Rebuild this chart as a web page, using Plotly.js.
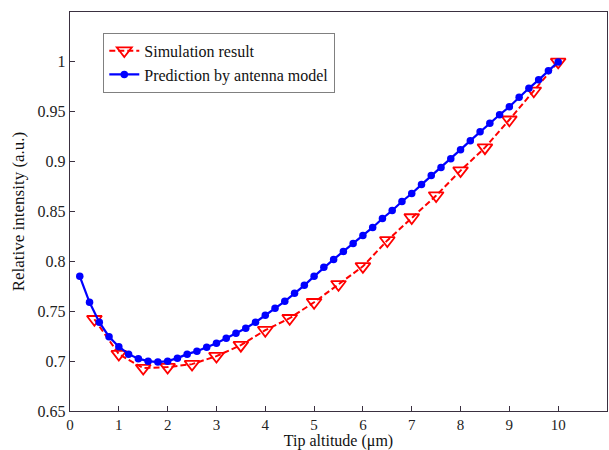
<!DOCTYPE html>
<html>
<head>
<meta charset="utf-8">
<script src="https://cdn.plot.ly/plotly-3.0.1.min.js"></script>
<style>html,body{margin:0;padding:0;background:#fff;}#chart{width:609px;height:450px;}</style>
</head>
<body>
<div id="chart"></div>
<script>
const simX = [0.5,1,1.5,2,2.5,3,3.5,4,4.5,5,5.5,6,6.5,7,7.5,8,8.5,9,9.5,10];
const simY = [0.742,0.707,0.693,0.694,0.697,0.705,0.716,0.731,0.743,0.759,0.777,0.795,0.821,0.844,0.866,0.891,0.914,0.942,0.971,1.0];

const predX = [0.2,0.4,0.6,0.8,1.0,1.2,1.4,1.6,1.8,2.0,2.2,2.4,2.6,2.8,3.0,3.2,3.4,3.6,3.8,4.0,4.2,4.4,4.6,4.8,5.0,5.2,5.4,5.6,5.8,6.0,6.2,6.4,6.6,6.8,7.0,7.2,7.4,7.6,7.8,8.0,8.2,8.4,8.6,8.8,9.0,9.2,9.4,9.6,9.8,10.0];
const predY = [0.785,0.759,0.739,0.7245,0.7145,0.707,0.7025,0.700,0.699,0.700,0.703,0.707,0.710,0.714,0.718,0.723,0.728,0.733,0.739,0.746,0.753,0.760,0.768,0.776,0.785,0.794,0.802,0.810,0.818,0.826,0.834,0.843,0.851,0.860,0.868,0.877,0.886,0.894,0.903,0.912,0.921,0.930,0.9385,0.947,0.955,0.9645,0.9735,0.982,0.991,1.0];

const xTicks = [0,1,2,3,4,5,6,7,8,9,10];
const yTicks = [0.65,0.7,0.75,0.8,0.85,0.9,0.95,1];
const yTickText = ['0.65','0.7','0.75','0.8','0.85','0.9','0.95','1'];

const font = 'Liberation Serif';
const axisColor = '#3a3040';

const traces = [
  {
    x: simX, y: simY, name: 'Simulation result', mode: 'lines+markers', type: 'scatter',
    line: {color: '#ff0000', width: 2, dash: '6px,3px'},
    marker: {symbol: 'triangle-down-open', size: 13, color: '#ff0000', line: {width: 1.8, color: '#ff0000'}}
  },
  {
    x: predX, y: predY, name: 'Prediction by antenna model', mode: 'lines+markers', type: 'scatter',
    line: {color: '#0000ff', width: 2.2},
    marker: {symbol: 'circle', size: 7.5, color: '#0000ff'}
  }
];

const layout = {
  width: 609, height: 450,
  margin: {l: 70, r: 2, t: 12, b: 39},
  paper_bgcolor: '#ffffff', plot_bgcolor: '#ffffff',
  font: {family: font, size: 15, color: '#111'},
  showlegend: true,
  legend: {
    x: 0.062, y: 0.948, xanchor: 'left', yanchor: 'top',
    bgcolor: '#ffffff', bordercolor: '#808080', borderwidth: 1,
    font: {family: font, size: 16, color: '#111'},
    tracegroupgap: 0, itemwidth: 30
  },
  xaxis: {
    range: [0, 11], tickvals: xTicks, ticktext: xTicks.map(String),
    ticks: 'inside', ticklen: 5, tickcolor: axisColor, tickwidth: 1,
    showline: true, linecolor: axisColor, linewidth: 1.2, mirror: true,
    showgrid: false, zeroline: false,
    tickfont: {family: font, size: 15, color: '#222'},
    title: {text: 'Tip altitude (μm)', font: {family: font, size: 16, color: '#111'}, standoff: 0}
  },
  yaxis: {
    range: [0.65, 1.05], tickvals: yTicks, ticktext: yTickText,
    ticks: 'inside', ticklen: 5, tickcolor: axisColor, tickwidth: 1,
    showline: true, linecolor: axisColor, linewidth: 1.2, mirror: true,
    showgrid: false, zeroline: false,
    tickfont: {family: font, size: 16, color: '#222'},
    title: {text: 'Relative intensity (a.u.)', font: {family: font, size: 17, color: '#111'}, standoff: 8}
  }
};

Plotly.newPlot('chart', traces, layout, {staticPlot: true, displayModeBar: false});
</script>
</body>
</html>
